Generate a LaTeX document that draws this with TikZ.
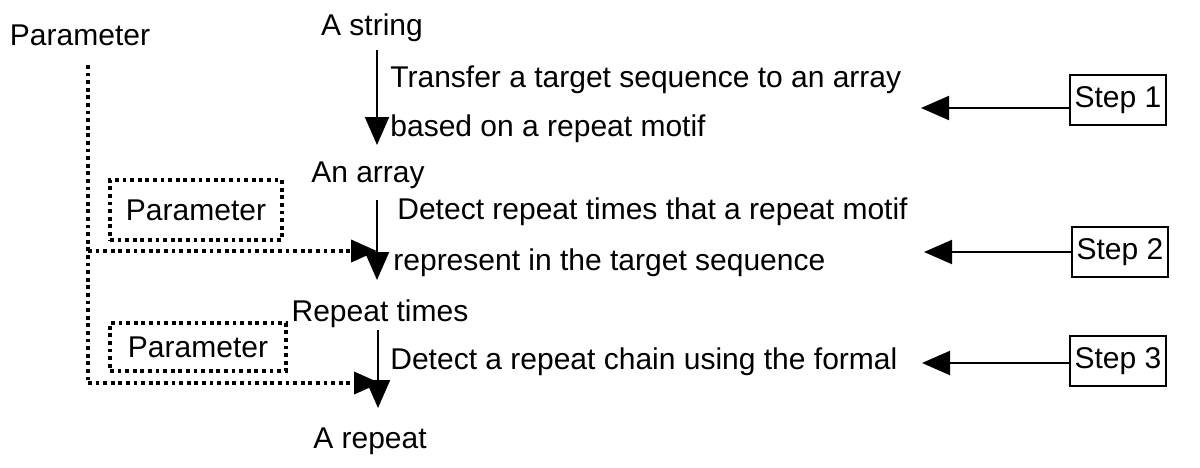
\documentclass[tikz,border=0pt]{standalone}
\usepackage{fontspec}
\setmainfont{Liberation Sans}
\usetikzlibrary{arrows.meta}
\begin{document}
\begin{tikzpicture}[x=0.5pt,y=-0.5pt,
  lbl/.style={font=\fontsize{15pt}{18pt}\selectfont, inner sep=0pt},
  flow/.style={line width=1pt,-{Triangle[length=14pt,width=12pt]}},
  dots/.style={line width=1.9pt,dash pattern=on 1.9pt off 1.9pt},
  dotflow/.style={dots,-{Triangle[length=13pt,width=11pt]}},
  stepbox/.style={draw,line width=1pt,font=\fontsize{15pt}{18pt}\selectfont,minimum width=48pt,minimum height=25pt,inner sep=1pt},
  parbox/.style={draw,dots,font=\fontsize{15pt}{18pt}\selectfont,inner sep=0pt}]
\useasboundingbox (0,0) rectangle (1200,467);
% left parameter
\node[lbl] (par) at (80,35) {Parameter};
% main chain texts
\node[lbl] (s1) at (372,28) {A string};
\node[lbl] (s2) at (368,175) {An array};
\node[lbl] (s3) at (380,314) {Repeat times};
\node[lbl] (s4) at (370,441) {A repeat};
\node[lbl,anchor=west] (t1a) at (390,80) {Transfer a target sequence to an array};
\node[lbl,anchor=west] (t1b) at (390,129) {based on a repeat motif};
\node[lbl,anchor=west] (t2a) at (397,212) {Detect repeat times that a repeat motif};
\node[lbl,anchor=west] (t2b) at (393,263) {represent in the target sequence};
\node[lbl,anchor=west] (t3a) at (390,362) {Detect a repeat chain using the formal};
% vertical arrows
\coordinate (a1s) at (377,50); \coordinate (a1e) at (377,145);
\coordinate (a2s) at (377,200); \coordinate (a2e) at (377,280);
\coordinate (a3s) at (378,330); \coordinate (a3e) at (378,408);
\draw[flow] (a1s) -- (a1e);
\draw[flow] (a2s) -- (a2e);
\draw[flow] (a3s) -- (a3e);
% parameter boxes
\node[parbox,minimum width=86pt,minimum height=30pt] (pb1) at (196,210) {\raisebox{-1pt}{Parameter}};
\node[parbox,minimum width=88pt,minimum height=24pt] (pb2) at (198,347) {\raisebox{-1pt}{Parameter}};
% dotted parameter lines
\coordinate (ptop) at (88,65);
\coordinate (pj1) at (88,251);
\coordinate (pbot) at (88,383);
\coordinate (pt1) at (377,251);
\coordinate (pt2) at (380,383);
\draw[dots] (ptop) -- (pbot);
\draw[dotflow] (pj1) -- (pt1);
\draw[dotflow] (pbot) -- (pt2);
% steps
\node[stepbox] (st1) at (1118,100) {Step 1};
\node[stepbox] (st2) at (1120,252) {Step 2};
\node[stepbox] (st3) at (1118,361) {Step 3};
\coordinate (e1) at (921,108);
\coordinate (e2) at (924,252);
\coordinate (e3) at (922,363);
\draw[flow] (st1.west |- e1) -- (e1);
\draw[flow] (st2.west) -- (e2);
\draw[flow] (st3.west |- e3) -- (e3);
\end{tikzpicture}
\end{document}
